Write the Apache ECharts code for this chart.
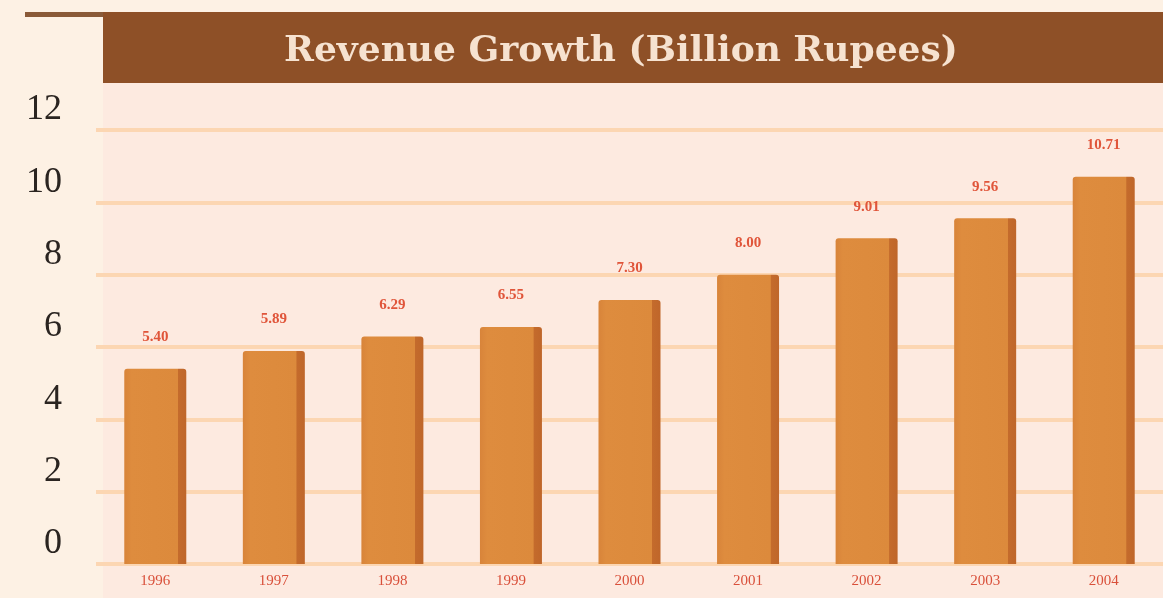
<!DOCTYPE html>
<html>
<head>
<meta charset="utf-8">
<style>
html,body{margin:0;padding:0;background:#fdf1e4;}
#chart{width:1163px;height:598px;}
</style>
<script src="https://cdn.jsdelivr.net/npm/echarts@6/dist/echarts.min.js"></script>
</head>
<body>
<div id="chart"></div>
<script>
var titleText = 'Revenue Growth (Billion Rupees)';
var years = ['1996','1997','1998','1999','2000','2001','2002','2003','2004'];
var revenue = [5.40, 5.89, 6.29, 6.55, 7.30, 8.00, 9.01, 9.56, 10.71];
var yTicks = [0, 2, 4, 6, 8, 10, 12];

var chart = echarts.init(document.getElementById('chart'), null, {renderer:'canvas'});
chart.setOption({
  backgroundColor: '#fdf1e4',
  animation: false,
  graphic: [
    {type:'rect', shape:{x:103, y:83, width:1060, height:515}, style:{fill:'#fdeae0'}, z:-10, silent:true},
    {type:'rect', shape:{x:25, y:12, width:80, height:5}, style:{fill:'#8a5a38'}, z:1, silent:true},
    {type:'rect', shape:{x:103, y:12, width:1060, height:71}, style:{fill:'#8e5027'}, z:1, silent:true},
    {type:'text', left:284, top:34, z:2, silent:true,
      style:{text:titleText, fill:'#f6e2d0', font:'bold 36px "DejaVu Serif"'}}
  ],
  grid: {left:96, width:1071, top:130, height:434},
  xAxis: {
    type:'category', data: years,
    axisLine:{show:false}, axisTick:{show:false},
    axisLabel:{color:'#d9503a', fontSize:15, fontFamily:'Liberation Serif', margin:10}
  },
  yAxis: {
    type:'value', min:0, max:12, interval:2,
    axisLine:{show:false}, axisTick:{show:false},
    splitLine:{show:true, lineStyle:{color:'#fcd6b2', width:4}},
    axisLabel:{
      color:'#2a2420', fontSize:36, fontFamily:'Liberation Serif', margin:34,
      verticalAlign:'bottom', padding:[0,0,2,0],
      formatter:function(v){ return yTicks.indexOf(v) >= 0 ? String(v) : ''; }
    }
  },
  series: [{
    type:'bar', data: revenue, barWidth:62,
    itemStyle:{
      borderRadius:[3,3,0,0],
      color: new echarts.graphic.LinearGradient(0,0,1,0,[
        {offset:0, color:'#d8843a'},
        {offset:0.12, color:'#de8c3e'},
        {offset:0.86, color:'#dc8a3c'},
        {offset:0.87, color:'#c46b2c'},
        {offset:1, color:'#bf662a'}
      ])
    },
    label:{
      show:true, position:'top', distance:24,
      color:'#e0553a', fontSize:15, fontFamily:'Liberation Serif', fontWeight:'bold',
      formatter:function(p){ return p.value.toFixed(2); }
    }
  }]
});
</script>
</body>
</html>
